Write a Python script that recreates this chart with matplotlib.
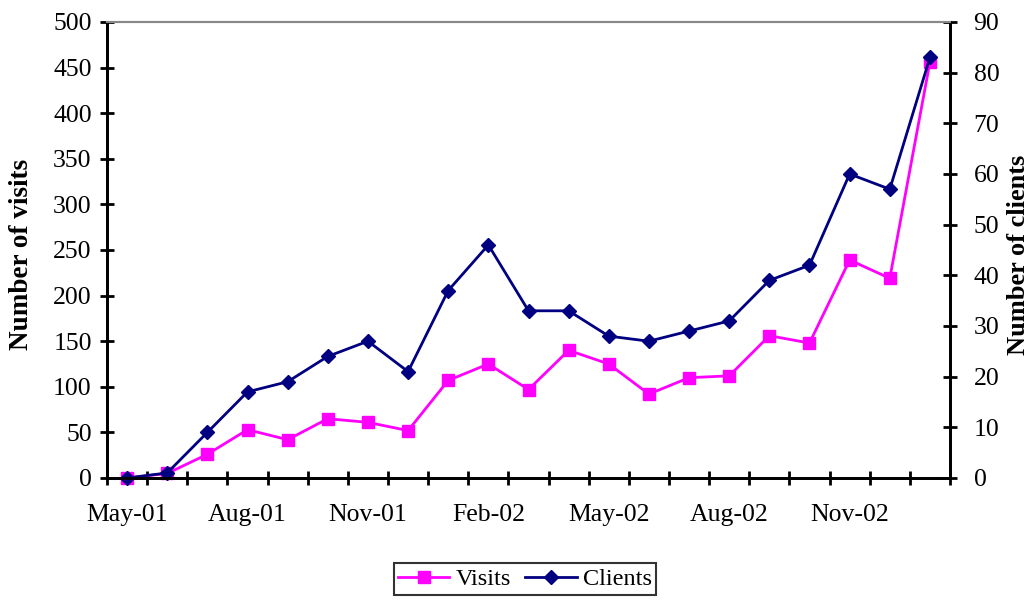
import matplotlib
matplotlib.use('Agg')
import matplotlib.pyplot as plt
import numpy as np

plt.rcParams['font.family'] = ['Liberation Serif', 'DejaVu Serif']

# monthly figures, May 2001 - Jan 2003
months = ['May-01', 'Jun-01', 'Jul-01', 'Aug-01', 'Sep-01', 'Oct-01', 'Nov-01',
          'Dec-01', 'Jan-02', 'Feb-02', 'Mar-02', 'Apr-02', 'May-02', 'Jun-02',
          'Jul-02', 'Aug-02', 'Sep-02', 'Oct-02', 'Nov-02', 'Dec-02', 'Jan-03']
visits = [0, 5, 26, 53, 42, 65, 61, 52, 107, 125, 97, 140, 125, 92,
          110, 112, 156, 148, 239, 219, 456]
clients = [0, 1, 9, 17, 19, 24, 27, 21, 37, 46, 33, 33, 28, 27,
           29, 31, 39, 42, 60, 57, 83]

x = np.arange(len(months))

fig = plt.figure(figsize=(10.35, 6.01), dpi=100)
ax = fig.add_axes([107/1035, 1-478/601, (950-107)/1035, (478-22)/601])
ax2 = ax.twinx()

l1, = ax.plot(x, visits, color='#FF00FF', lw=2, marker='s', ms=8.5,
              mfc='#FF00FF', mec='#FF00FF', label='Visits', clip_on=False)
l2, = ax2.plot(x, clients, color='#000080', lw=2, marker='D', ms=7.5,
               mfc='#000080', mec='#000080', label='Clients', clip_on=False)

ax.set_xlim(-0.5, len(months) - 0.5)
ax.set_ylim(0, 500)
ax2.set_ylim(0, 90)
ax.set_yticks(np.arange(0, 501, 50))
ax2.set_yticks(np.arange(0, 91, 10))

# category boundaries get tick marks, every third month gets a label
ax.set_xticks(np.arange(-0.5, len(months), 1))
ax.set_xticklabels([])
ax.set_xticks(x[::3], minor=True)
ax.set_xticklabels(months[::3], minor=True)
ax.tick_params(axis='x', which='major', direction='inout', length=10, width=2)
ax.tick_params(axis='x', which='minor', length=0, pad=19, labelsize=18.5)
ax.tick_params(axis='y', direction='inout', length=10, width=2, pad=6, labelsize=18.5)
ax2.tick_params(axis='y', direction='inout', length=10, width=2, pad=12, labelsize=18.5)

for a in (ax, ax2):
    for s in a.spines.values():
        s.set_linewidth(2)
    a.spines['top'].set_color('#888888')
    a.spines['top'].set_linewidth(1.5)

ax.set_ylabel('Number of visits', fontsize=19.5, fontweight='bold')
ax2.set_ylabel('Number of clients', fontsize=19, fontweight='bold')
ax.yaxis.set_label_coords((34 - 107) / 843, 0.49)
ax2.yaxis.set_label_coords((1007 - 107) / 843, 0.49)

leg = fig.legend(handles=[l1, l2], loc='center', ncol=2,
                 bbox_to_anchor=(525/1035, 1-579/601), fontsize=17.5,
                 frameon=True, fancybox=False, edgecolor='black',
                 handlelength=2.1, handletextpad=0.25, columnspacing=0.6,
                 borderpad=0.2, borderaxespad=0)
leg.get_frame().set_linewidth(1.5)

fig.savefig('out.png', dpi=100)
